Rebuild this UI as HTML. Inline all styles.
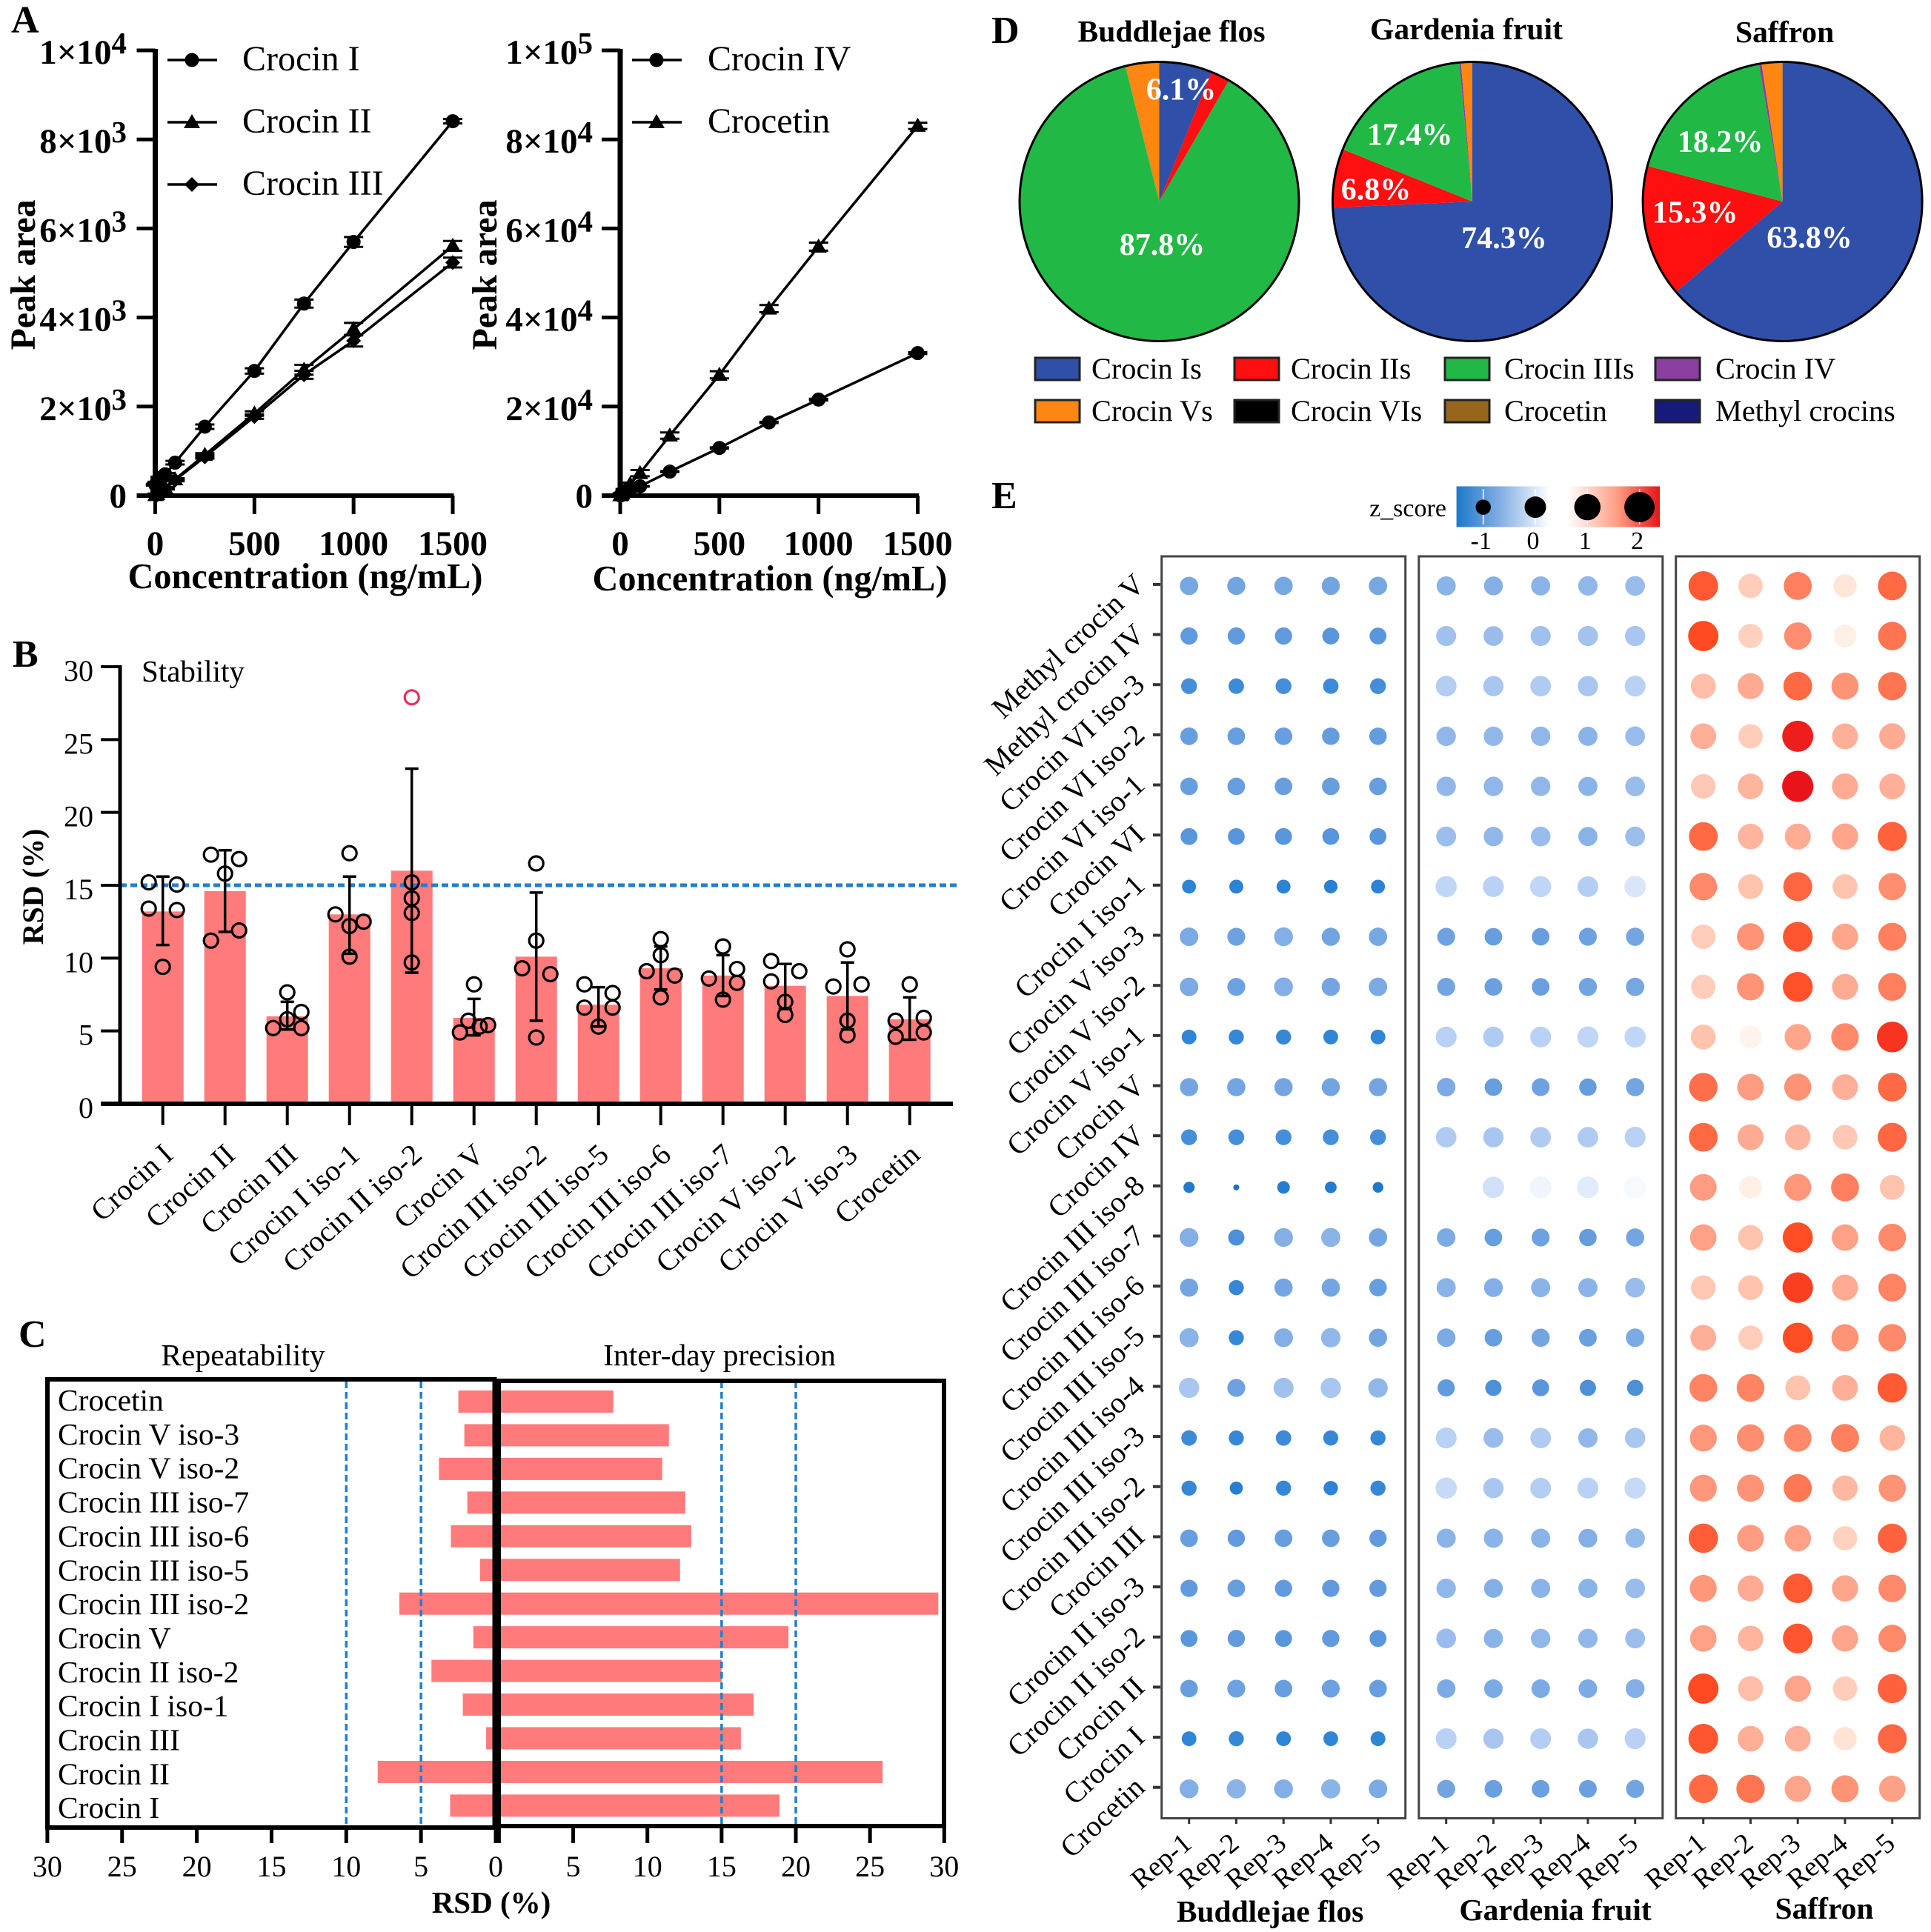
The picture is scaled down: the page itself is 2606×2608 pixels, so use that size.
<!DOCTYPE html>
<html lang="en">
<head>
<meta charset="utf-8">
<title>Crocin analysis figure</title>
<style>
html,body{margin:0;padding:0;background:#fff;}
svg{display:block;font-family:"Liberation Serif","Times New Roman",serif;}
</style>
</head>
<body>
<svg id="figure" xmlns="http://www.w3.org/2000/svg" width="2606" height="2608" viewBox="0 0 2606 2608">
  <defs>
    <linearGradient id="gradBlue" x1="0" x2="1" y1="0" y2="0"><stop offset="0" stop-color="#1c79c8"/><stop offset="0.45" stop-color="#7fabe4"/><stop offset="1" stop-color="#ffffff"/></linearGradient>
    <linearGradient id="gradRed" x1="0" x2="1" y1="0" y2="0"><stop offset="0" stop-color="#ffffff"/><stop offset="0.55" stop-color="#ff9a80"/><stop offset="1" stop-color="#e8141a"/></linearGradient>
  </defs>
  <rect width="2606" height="2608" fill="#fff"/>
  <g font-weight="bold" font-size="52" fill="#000">
    <text x="15" y="44">A</text>
    <text x="17" y="900">B</text>
    <text x="25" y="1818">C</text>
    <text x="1338" y="58">D</text>
    <text x="1338" y="686">E</text>
  </g>
  <g id="panelA"></g>
  <g id="panelB"></g>
  <g id="panelC"></g>
  <g id="panelD"></g>
  <g id="panelE"></g>
</svg>
<script>
/* ---------- Panel A data ---------- */
const concentrations = [1, 5, 10, 25, 50, 100, 250, 500, 750, 1000, 1500];
const crocinI = [240, 260, 290, 400, 478, 739, 1548, 2800, 4313, 5696, 8409];
const crocinII = [10, 20, 35, 87, 174, 365, 913, 1843, 2826, 3739, 5609];
const crocinIII = [5, 15, 17, 70, 157, 348, 870, 1774, 2713, 3478, 5235];
const crocinIErr = [15, 15, 20, 25, 30, 40, 50, 60, 90, 110, 50];
const crocinIIErr = [5, 5, 10, 15, 20, 25, 40, 50, 110, 140, 110];
const crocinIIIErr = [5, 5, 10, 15, 20, 25, 40, 50, 90, 130, 110];
const crocinIV = [30, 100, 260, 696, 1217, 2087, 5391, 10696, 16435, 21565, 32000];
const crocetin = [60, 180, 435, 1304, 2609, 5043, 13478, 27130, 42000, 55913, 83043];
const crocinIVErr = [10, 20, 30, 50, 60, 80, 100, 150, 150, 200, 200];
const crocetinErr = [20, 50, 100, 200, 300, 700, 700, 800, 800, 900, 700];
const yTicksLow = [0, 2000, 4000, 6000, 8000, 10000];
const yTicksHigh = [0, 20000, 40000, 60000, 80000, 100000];
const yMantissas = ['0', '2×10', '4×10', '6×10', '8×10', '1×10'];
const yExponentsLow = ['', '3', '3', '3', '3', '4'];
const yExponentsHigh = ['', '4', '4', '4', '4', '5'];
const concentrationTicks = [0, 500, 1000, 1500];

/* ---------- Panel B data ---------- */
const stabilityNames = ['Crocin I', 'Crocin II', 'Crocin III', 'Crocin I iso-1', 'Crocin II iso-2', 'Crocin V', 'Crocin III iso-2', 'Crocin III iso-5', 'Crocin III iso-6', 'Crocin III iso-7', 'Crocin V iso-2', 'Crocin V iso-3', 'Crocetin'];
const stabilityMeans = [13.2, 14.6, 6.0, 13.0, 16.0, 5.9, 10.1, 6.8, 9.3, 8.8, 8.1, 7.4, 5.8];
const stabilityLow = [10.9, 11.8, 5.1, 10.3, 9.0, 4.7, 5.7, 5.3, 7.85, 7.4, 6.5, 5.1, 4.4];
const stabilityHigh = [15.6, 17.4, 7.0, 15.6, 23.0, 7.2, 14.5, 8.0, 10.8, 10.2, 9.6, 9.7, 7.3];
const stabilityPoints = [
  [15.2, 15.05, 13.4, 13.3, 9.4],
  [17.1, 16.8, 15.8, 11.2, 11.9],
  [7.65, 6.3, 5.8, 5.2, 5.2],
  [17.2, 13.0, 12.5, 12.2, 10.1],
  [27.9, 15.2, 14.1, 13.1, 9.7],
  [8.2, 5.7, 4.9, 5.3, 5.4],
  [16.5, 11.2, 9.3, 8.9, 4.55],
  [8.2, 7.6, 6.6, 6.6, 5.3],
  [11.3, 10.2, 9.1, 8.8, 7.3],
  [10.8, 9.25, 8.6, 8.3, 7.15],
  [9.8, 9.1, 8.4, 7.0, 6.1],
  [10.6, 8.05, 8.2, 5.7, 4.7],
  [8.2, 5.9, 5.7, 4.9, 4.6]
];
const stabilitySlots = [
  [-1, 1, -1, 1, 0],
  [-1, 1, 0, -1, 1],
  [0, 1, 0, -1, 1],
  [0, -1, 1, 0, 0],
  [0, 0, 0, 0, 0],
  [0, -0.4, -1, 0.4, 1],
  [0, 0, -1, 1, 0],
  [-1, 1, -1, 1, 0],
  [0, 0, -1, 1, 0],
  [0, 1, -1, 1, 0],
  [-1, 1, -1, 0, 0],
  [0, -1, 1, 0, 0],
  [0, 1, -1, 1, -1]
];
const stabilityTicks = [0, 5, 10, 15, 20, 25, 30];
const stabilityLimit = 15;

/* ---------- Panel C data ---------- */
const precisionNames = ['Crocetin', 'Crocin V iso-3', 'Crocin V iso-2', 'Crocin III iso-7', 'Crocin III iso-6', 'Crocin III iso-5', 'Crocin III iso-2', 'Crocin V', 'Crocin II iso-2', 'Crocin I iso-1', 'Crocin III', 'Crocin II', 'Crocin I'];
const repeatability = [2.5, 2.1, 3.8, 1.9, 3.0, 1.05, 6.45, 1.5, 4.3, 2.2, 0.65, 7.9, 3.05];
const interDay = [7.7, 11.45, 11.0, 12.55, 12.95, 12.2, 29.6, 19.5, 15.0, 17.15, 16.3, 25.85, 18.9];
const precisionTicks = [0, 5, 10, 15, 20, 25, 30];
const repeatabilityLimits = [5, 10];
const interDayLimits = [15, 20];

/* ---------- Panel D data ---------- */
const classNames = ['Crocin Is', 'Crocin IIs', 'Crocin IIIs', 'Crocin IV', 'Crocin Vs', 'Crocin VIs', 'Crocetin', 'Methyl crocins'];
const buddlejaShares = [6.1, 2.2, 87.8, 0, 3.9, 0, 0, 0];
const gardeniaShares = [74.3, 6.8, 17.4, 0.2, 1.3, 0, 0, 0];
const saffronShares = [63.8, 15.3, 18.2, 0.3, 2.4, 0, 0, 0];

/* ---------- Panel E data ---------- */
const compoundNames = ['Methyl crocin V', 'Methyl crocin IV', 'Crocin VI iso-3', 'Crocin VI iso-2', 'Crocin VI iso-1', 'Crocin VI', 'Crocin I iso-1', 'Crocin V iso-3', 'Crocin V iso-2', 'Crocin V iso-1', 'Crocin V', 'Crocin IV', 'Crocin III iso-8', 'Crocin III iso-7', 'Crocin III iso-6', 'Crocin III iso-5', 'Crocin III iso-4', 'Crocin III iso-3', 'Crocin III iso-2', 'Crocin III', 'Crocin II iso-3', 'Crocin II iso-2', 'Crocin II', 'Crocin I', 'Crocetin'];
const repNames = ['Rep-1', 'Rep-2', 'Rep-3', 'Rep-4', 'Rep-5'];
const zLegendTicks = [-1, 0, 1, 2];
const zBuddleja = [
  [-.68,-.72,-.68,-.72,-.68],[-.85,-.85,-.85,-.9,-.9],[-1.05,-1.1,-1.05,-1.1,-1.05],[-.8,-.8,-.8,-.82,-.82],[-.8,-.8,-.8,-.8,-.8],
  [-.9,-.92,-.9,-.92,-.92],[-1.3,-1.3,-1.3,-1.35,-1.3],[-.65,-.75,-.6,-.72,-.68],[-.65,-.75,-.6,-.7,-.65],[-1.2,-1.15,-1.15,-1.2,-1.2],
  [-.7,-.7,-.7,-.72,-.7],[-1.05,-1.05,-1.05,-1.05,-1.05],[-1.6,-2.0,-1.45,-1.55,-1.65],[-.6,-1.0,-.6,-.55,-.7],[-.7,-1.15,-.7,-.7,-.8],
  [-.55,-1.15,-.6,-.5,-.7],[-.35,-.75,-.4,-.35,-.5],[-1.1,-1.15,-1.1,-1.15,-1.15],[-1.15,-1.4,-1.15,-1.25,-1.15],[-.8,-.85,-.8,-.8,-.85],
  [-.85,-.8,-.85,-.85,-.85],[-.9,-.85,-.9,-.85,-.9],[-.8,-.75,-.8,-.75,-.8],[-1.2,-1.15,-1.2,-1.2,-1.2],[-.6,-.55,-.6,-.55,-.65]
];
const zGardenia = [
  [-.55,-.6,-.55,-.5,-.45],[-.4,-.45,-.4,-.38,-.35],[-.28,-.35,-.3,-.35,-.25],[-.5,-.5,-.5,-.55,-.45],[-.5,-.5,-.5,-.55,-.45],
  [-.42,-.5,-.45,-.55,-.42],[-.2,-.25,-.2,-.28,-.12],[-.75,-.8,-.8,-.75,-.7],[-.72,-.78,-.78,-.72,-.68],[-.25,-.3,-.25,-.2,-.2],
  [-.65,-.8,-.75,-.82,-.7],[-.3,-.35,-.3,-.3,-.25],[0,-.15,-.05,-.1,-.03],[-.65,-.8,-.75,-.82,-.7],[-.55,-.6,-.55,-.55,-.45],
  [-.65,-.8,-.7,-.78,-.65],[-.85,-1.0,-.9,-1.0,-1.0],[-.25,-.45,-.3,-.5,-.35],[-.18,-.35,-.28,-.25,-.18],[-.55,-.55,-.55,-.6,-.48],
  [-.5,-.6,-.55,-.55,-.45],[-.45,-.55,-.5,-.5,-.42],[-.65,-.65,-.65,-.65,-.6],[-.25,-.35,-.28,-.35,-.25],[-.72,-.78,-.78,-.78,-.72]
];
const zSaffron = [
  [1.65,.45,1.25,.2,1.45],[1.85,.42,1.1,.12,1.35],[.6,.8,1.45,1.05,1.35],[.75,.45,2.05,.75,.8],[.5,.7,2.1,.8,.75],
  [1.45,.7,.78,.85,1.55],[1.15,.55,1.5,.55,1.1],[.45,1.05,1.7,.85,1.25],[.45,1.05,1.75,.8,1.25],[.55,.08,.85,1.15,1.95],
  [1.4,.95,1.05,.75,1.45],[1.45,.8,.7,.5,1.5],[.95,.12,1.0,1.25,.55],[.9,.55,1.8,.9,1.15],[.5,.55,1.9,.8,1.2],
  [.75,.45,1.8,1.05,1.15],[1.2,1.2,.55,.75,1.65],[1.0,1.1,1.15,1.25,.7],[1.0,1.05,1.3,.65,1.05],[1.6,.95,.9,.4,1.55],
  [1.0,.8,1.65,.85,1.15],[.9,.7,1.7,.85,1.15],[1.85,.6,.85,.45,1.55],[1.7,.75,.75,.22,1.5],[1.45,1.35,.85,1.05,.9]
];

/* ---------- helpers ---------- */
const NS = 'http://www.w3.org/2000/svg';
function mk(tag, attrs, parent, txt) {
  const n = document.createElementNS(NS, tag);
  for (const k in attrs) n.setAttribute(k, attrs[k]);
  if (txt !== undefined && txt !== null) n.textContent = txt;
  parent.appendChild(n);
  return n;
}
function marker(kind, x, y, parent) {
  if (kind === 'circle') return mk('circle', {cx: x, cy: y, r: 9.5, fill: '#000'}, parent);
  if (kind === 'triangle') return mk('polygon', {points: (x - 11) + ',' + (y + 8) + ' ' + (x + 11) + ',' + (y + 8) + ' ' + x + ',' + (y - 11), fill: '#000'}, parent);
  return mk('polygon', {points: (x - 10) + ',' + y + ' ' + x + ',' + (y - 10) + ' ' + (x + 10) + ',' + y + ' ' + x + ',' + (y + 10), fill: '#000'}, parent);
}

/* ---------- Panel A ---------- */
const panelA = document.getElementById('panelA');
function drawCalibration(originX, maxY, ticks, exps, seriesList, legendX, legendTextX, labelRight, yTitleX, xTitleX, xTitleY) {
  const xS = c => originX + c / 1500 * 401.5;
  const yS = v => 669 - v / maxY * 601;
  const g = mk('g', {}, panelA);
  
  

  const yAxis = mk('line', {x1: originX, x2: originX, y1: 66, y2: 672, stroke: '#000', 'stroke-width': 7}, g);
  
  
  const xAxis = mk('line', {x1: originX - 25, x2: originX + 403, y1: 669, y2: 669, stroke: '#000', 'stroke-width': 6}, g);
  
  

  ticks.forEach((t, i) => {
    const y = yS(t);
    const tick = mk('line', {x1: originX - 25, x2: originX, y1: y, y2: y, stroke: '#000', 'stroke-width': 5}, g);
    
    
    const label = mk('text', {x: labelRight, y: y + (t === 0 ? 16 : 18), 'text-anchor': 'end', 'font-weight': 'bold', 'font-size': 47}, g, yMantissas[i]);
    
    
    if (exps[i]) {
      mk('tspan', {dy: -14, 'font-size': 41}, label, exps[i]);
    }
  });
  concentrationTicks.forEach(t => {
    const x = xS(t);
    const tick = mk('line', {x1: x, x2: x, y1: 669, y2: 694, stroke: '#000', 'stroke-width': 5}, g);
    
    
    const label = mk('text', {x: x, y: 749, 'text-anchor': 'middle', 'font-weight': 'bold', 'font-size': 47}, g, String(t));
    
    
  });
  const xTitle = mk('text', {x: xTitleX, y: xTitleY, 'text-anchor': 'middle', 'font-weight': 'bold', 'font-size': 48.3}, g, 'Concentration (ng/mL)');
  
  
  const yTitle = mk('text', {transform: 'translate(' + yTitleX + ',371) rotate(-90)', 'text-anchor': 'middle', 'font-weight': 'bold', 'font-size': 48}, g, 'Peak area');
  
  

  seriesList.forEach((s, si) => {
    const sg = mk('g', {}, g);
    
    
    const pts = concentrations.map((c, i) => xS(c) + ',' + yS(s.values[i])).join(' ');
    const line = mk('polyline', {points: pts, fill: 'none', stroke: '#000', 'stroke-width': 3.5}, sg);
    
    
    concentrations.forEach((c, i) => {
      const x = xS(c), y = yS(s.values[i]);
      const top = yS(s.values[i] + s.errs[i]), bottom = yS(s.values[i] - s.errs[i]);
      [top, bottom].forEach(cap => {
        const capLine = mk('line', {x1: x - 13, x2: x + 13, y1: cap, y2: cap, stroke: '#000', 'stroke-width': 3}, sg);
        
        
      });
      const dot = marker(s.kind, x, y, sg);
      
      
    });
    const ly = 81 + si * 84;
    const leg = mk('g', {}, g);
    
    
    mk('line', {x1: legendX, x2: legendX + 67, y1: ly, y2: ly, stroke: '#000', 'stroke-width': 3.5}, leg);
    marker(s.kind, legendX + 33, ly, leg);
    mk('text', {x: legendTextX, y: ly + 14, 'font-size': 48}, leg, s.name);
  });
}
drawCalibration(209.5, 10000, yTicksLow, yExponentsLow, [
  {name: 'Crocin I', values: crocinI, errs: crocinIErr, kind: 'circle'},
  {name: 'Crocin II', values: crocinII, errs: crocinIIErr, kind: 'triangle'},
  {name: 'Crocin III', values: crocinIII, errs: crocinIIIErr, kind: 'diamond'}
], 226, 327, 171, 47, 412, 794);
drawCalibration(837, 100000, yTicksHigh, yExponentsHigh, [
  {name: 'Crocin IV', values: crocinIV, errs: crocinIVErr, kind: 'circle'},
  {name: 'Crocetin', values: crocetin, errs: crocetinErr, kind: 'triangle'}
], 853, 955, 800, 670, 1039, 797);

/* ---------- Panel B ---------- */
const panelB = document.getElementById('panelB');
const bandB = i => 219.7 + i * 84;
const yB = v => 1490 - v / 30 * 590;
stabilityNames.forEach((name, i) => {
  const bar = mk('rect', {x: bandB(i) - 28, y: yB(stabilityMeans[i]), width: 56, height: 1490 - yB(stabilityMeans[i]), fill: '#ff7b7b'}, panelB);
  
  
});
const limitB = mk('line', {x1: 162, x2: 1292, y1: yB(stabilityLimit), y2: yB(stabilityLimit), stroke: '#1f7fd0', 'stroke-width': 5, 'stroke-dasharray': '9 5'}, panelB);


stabilityNames.forEach((name, i) => {
  const x = bandB(i);
  const e = mk('line', {x1: x, x2: x, y1: yB(stabilityHigh[i]), y2: yB(stabilityLow[i]), stroke: '#000', 'stroke-width': 3.5}, panelB);
  
  
  [stabilityHigh[i], stabilityLow[i]].forEach(v => {
    const cap = mk('line', {x1: x - 9, x2: x + 9, y1: yB(v), y2: yB(v), stroke: '#000', 'stroke-width': 3.5}, panelB);
    
    
  });
  stabilityPoints[i].forEach((v, j) => {
    const outlier = v > 25;
    const c = mk('circle', {cx: x + stabilitySlots[i][j] * 19, cy: yB(v), r: 9.5, fill: 'none', stroke: outlier ? '#e8305a' : '#000', 'stroke-width': 3.2}, panelB);
    
    
  });
  const tick = mk('line', {x1: x, x2: x, y1: 1490, y2: 1519, stroke: '#000', 'stroke-width': 4}, panelB);
  
  
  const lab = mk('text', {transform: 'translate(' + (x + 16) + ',1562) rotate(-42)', 'text-anchor': 'end', 'font-size': 40}, panelB, name);
  
  
});
const axisBY = mk('line', {x1: 162, x2: 162, y1: 898, y2: 1492, stroke: '#000', 'stroke-width': 5}, panelB);


const axisBX = mk('line', {x1: 136, x2: 1286, y1: 1490, y2: 1490, stroke: '#000', 'stroke-width': 6}, panelB);


stabilityTicks.forEach(t => {
  const y = yB(t);
  const tick = mk('line', {x1: 136, x2: 162, y1: y, y2: y, stroke: '#000', 'stroke-width': 4}, panelB);
  
  
  const lab = mk('text', {x: 126, y: y + 19, 'text-anchor': 'end', 'font-size': 40}, panelB, String(t));
  
  
});
const titleB = mk('text', {x: 191, y: 920, 'font-size': 41}, panelB, 'Stability');


const yTitleB = mk('text', {transform: 'translate(58,1197) rotate(-90)', 'text-anchor': 'middle', 'font-size': 40, 'font-weight': 'bold'}, panelB, 'RSD (%)');



/* ---------- Panel C ---------- */
const panelC = document.getElementById('panelC');
const rowC = i => 1892 + i * 45.45;
const labelRowC = i => 1891 + i * 45.85;
const xL = v => 669 - v * 20.17;
const xR = v => 673.4 + v * 20.03;
precisionNames.forEach((name, i) => {
  const y = rowC(i);
  const l = mk('rect', {x: xL(repeatability[i]), y: y - 15, width: 669 - xL(repeatability[i]), height: 30, fill: '#ff7b7b'}, panelC);
  
  
  const r = mk('rect', {x: 673, y: y - 15, width: xR(interDay[i]) - 673, height: 30, fill: '#ff7b7b'}, panelC);
  
  
  const lab = mk('text', {x: 78, y: labelRowC(i) + 13, 'font-size': 41.5}, panelC, name);
  
  
});
repeatabilityLimits.forEach(v => {
  const d = mk('line', {x1: xL(v), x2: xL(v), y1: 1865, y2: 2488, stroke: '#1f7fd0', 'stroke-width': 3.5, 'stroke-dasharray': '9 5'}, panelC);
  
  
});
interDayLimits.forEach(v => {
  const d = mk('line', {x1: xR(v), x2: xR(v), y1: 1865, y2: 2488, stroke: '#1f7fd0', 'stroke-width': 3.5, 'stroke-dasharray': '9 5'}, panelC);
  
  
});
const frameL = mk('rect', {x: 64, y: 1862, width: 603.5, height: 605, fill: 'none', stroke: '#000', 'stroke-width': 6}, panelC);


const frameR = mk('rect', {x: 673, y: 1864, width: 601, height: 601, fill: 'none', stroke: '#000', 'stroke-width': 6}, panelC);


precisionTicks.forEach(t => {
  [xL(t), xR(t)].forEach((x, side) => {
    const tick = mk('line', {x1: x, x2: x, y1: 2466, y2: 2488, stroke: '#000', 'stroke-width': 5}, panelC);
    
    
    if (t === 0 && side === 1) return;
    const lab = mk('text', {x: x, y: 2533, 'text-anchor': 'middle', 'font-size': 40}, panelC, String(t));
    
    
  });
});
const tRep = mk('text', {x: 328, y: 1843, 'text-anchor': 'middle', 'font-size': 41.5}, panelC, 'Repeatability');


const tInter = mk('text', {x: 971, y: 1843, 'text-anchor': 'middle', 'font-size': 41.5}, panelC, 'Inter-day precision');


const tRsd = mk('text', {x: 663, y: 2582, 'text-anchor': 'middle', 'font-size': 41, 'font-weight': 'bold'}, panelC, 'RSD (%)');



/* ---------- Panel D ---------- */
const panelD = document.getElementById('panelD');
const classColor = i => ['#2f4fa8', '#ff0f10', '#22b846', '#8a3fa0', '#ff8612', '#000000', '#96651e', '#171a7a'][i];
const PIE_R = 188.5, PIE_Y = 272;
function polar(cx, angleDeg, r) {
  const a = angleDeg * Math.PI / 180;
  return [cx + r * Math.sin(a), PIE_Y - r * Math.cos(a)];
}
function drawPie(cx, shares, title, titleX, titleY, labels) {
  const g = mk('g', {}, panelD);
  
  
  let start = 0;
  const mids = [];
  shares.forEach((s, i) => {
    const end = start + s * 3.6;
    mids.push((start + end) / 2);
    if (s > 0) {
      const p0 = polar(cx, start, PIE_R), p1 = polar(cx, end, PIE_R);
      const d = 'M' + cx + ',' + PIE_Y + ' L' + p0[0] + ',' + p0[1] + ' A' + PIE_R + ',' + PIE_R + ' 0 ' + (end - start > 180 ? 1 : 0) + ' 1 ' + p1[0] + ',' + p1[1] + ' Z';
      const slice = mk('path', {d: d, fill: classColor(i)}, g);
      
      
    }
    start = end;
  });
  const rim = mk('circle', {cx: cx, cy: PIE_Y, r: PIE_R, fill: 'none', stroke: '#000', 'stroke-width': 3}, g);
  
  
  labels.forEach(l => {
    const p = polar(cx, mids[l.slice], PIE_R * l.frac);
    const t = mk('text', {x: p[0] + l.dx, y: p[1] + l.dy + 14, 'text-anchor': 'middle', fill: '#fff', 'font-weight': 'bold', 'font-size': 42}, g, shares[l.slice].toFixed(1) + '%');
    
    
  });
  const tt = mk('text', {x: titleX, y: titleY + 13, 'text-anchor': 'middle', 'font-weight': 'bold', 'font-size': 41.6}, g, title);
  
  
}
drawPie(1564.5, buddlejaShares, 'Buddlejae flos', 1581, 43, [
  {slice: 0, frac: 0.82, dx: 0, dy: 0}, {slice: 2, frac: 0.31, dx: 12, dy: 0}
]);
drawPie(1987, gardeniaShares, 'Gardenia fruit', 1979, 40, [
  {slice: 0, frac: 0.345, dx: -4, dy: 4}, {slice: 1, frac: 0.70, dx: 0, dy: 6}, {slice: 2, frac: 0.66, dx: -10, dy: 9}
]);
drawPie(2405.6, saffronShares, 'Saffron', 2408.6, 44, [
  {slice: 0, frac: 0.324, dx: -19, dy: 23}, {slice: 1, frac: 0.63, dx: -2, dy: -12}, {slice: 2, frac: 0.62, dx: -5, dy: 5}
]);
classNames.forEach((name, i) => {
  const colX = [1397, 1666, 1950, 2234][i % 4];
  const textX = [1473, 1742, 2030, 2315][i % 4];
  const y = i < 4 ? 498 : 555;
  const entry = mk('g', {}, panelD);
  
  
  mk('rect', {x: colX, y: y - 15, width: 60, height: 30, fill: classColor(i), stroke: '#222', 'stroke-width': 3}, entry);
  mk('text', {x: textX, y: y + 13, 'font-size': 40.3}, entry, name);
});

/* ---------- Panel E ---------- */
const panelE = document.getElementById('panelE');
const rowE = i => 790.9 + i * 67.66;
const colE = (p, j) => [1604.7, 1951.7, 2298.7][p] + j * 63.75;
const rOf = z => Math.sqrt(Math.max(225 + 105 * z, 16));
function colorOf(z) {
  const stops = [[-1.8,[26,114,200]],[-1.2,[47,133,214]],[-.9,[90,150,220]],[-.7,[116,165,226]],[-.4,[160,192,238]],[-.2,[192,214,246]],[0,[255,255,255]],[.05,[255,248,242]],[.25,[255,224,208]],[.5,[255,200,180]],[.8,[255,170,146]],[1.1,[255,142,112]],[1.45,[255,106,69]],[1.85,[255,74,34]],[2.1,[232,20,26]]];
  if (z <= stops[0][0]) return 'rgb(' + stops[0][1].join(',') + ')';
  for (let i = 1; i < stops.length; i++) {
    if (z <= stops[i][0]) {
      const t = (z - stops[i - 1][0]) / (stops[i][0] - stops[i - 1][0]);
      const c = stops[i - 1][1].map((v, k) => Math.round(v + (stops[i][1][k] - v) * t));
      return 'rgb(' + c.join(',') + ')';
    }
  }
  return 'rgb(232,20,26)';
}
const frameXs = [1567.7, 1914.8, 2261.7];
const sourceTitles = ['Buddlejae flos', 'Gardenia fruit', 'Saffron'];
[zBuddleja, zGardenia, zSaffron].forEach((matrix, p) => {
  const frame = mk('rect', {x: frameXs[p], y: 751, width: 329, height: 1703.5, fill: '#fff', stroke: '#444', 'stroke-width': 3}, panelE);
  
  
  matrix.forEach((row, i) => {
    row.forEach((z, j) => {
      const dot = mk('circle', {cx: colE(p, j), cy: rowE(i), r: rOf(z), fill: colorOf(z)}, panelE);
      
      
    });
  });
  repNames.forEach((rep, j) => {
    const x = colE(p, j);
    const tick = mk('line', {x1: x, x2: x, y1: 2454, y2: 2462, stroke: '#333', 'stroke-width': 3}, panelE);
    
    
    const lab = mk('text', {transform: 'translate(' + (x + 6) + ',2492) rotate(-40)', 'text-anchor': 'end', 'font-size': 38}, panelE, rep);
    
    
  });
  const st = mk('text', {x: [1714, 2099, 2462][p], y: [2594, 2592, 2590][p], 'text-anchor': 'middle', 'font-weight': 'bold', 'font-size': 41.5}, panelE, sourceTitles[p]);
  
  
});
compoundNames.forEach((name, i) => {
  const y = rowE(i);
  const tick = mk('line', {x1: 1556, x2: 1566, y1: y - 2, y2: y - 2, stroke: '#333', 'stroke-width': 4}, panelE);
  
  
  const lab = mk('text', {transform: 'translate(1547,' + (y + 1) + ') rotate(-43)', 'text-anchor': 'end', 'font-size': 40}, panelE, name);
  
  
});
const zTitle = mk('text', {x: 1900, y: 697, 'text-anchor': 'middle', 'font-size': 34}, panelE, 'z_score');


const gradA = mk('rect', {x: 1965.6, y: 656.5, width: 125.4, height: 55, fill: 'url(#gradBlue)'}, panelE);


const gradB = mk('rect', {x: 2116, y: 656.5, width: 124, height: 55, fill: 'url(#gradRed)'}, panelE);


zLegendTicks.forEach(z => {
  const x = 2001.7 + (z + 1) * 70.3;
  const mark = mk('line', {x1: x, x2: x, y1: 660, y2: 708, stroke: '#fff', 'stroke-width': 1.5}, panelE);
  
  
  const c = mk('circle', {cx: x, cy: 684.6, r: Math.sqrt(210 + 105 * z), fill: '#000'}, panelE);
  
  
  const t = mk('text', {x: x - 3, y: 741, 'text-anchor': 'middle', 'font-size': 34}, panelE, String(z));
  
  
});
</script>
</body>
</html>
